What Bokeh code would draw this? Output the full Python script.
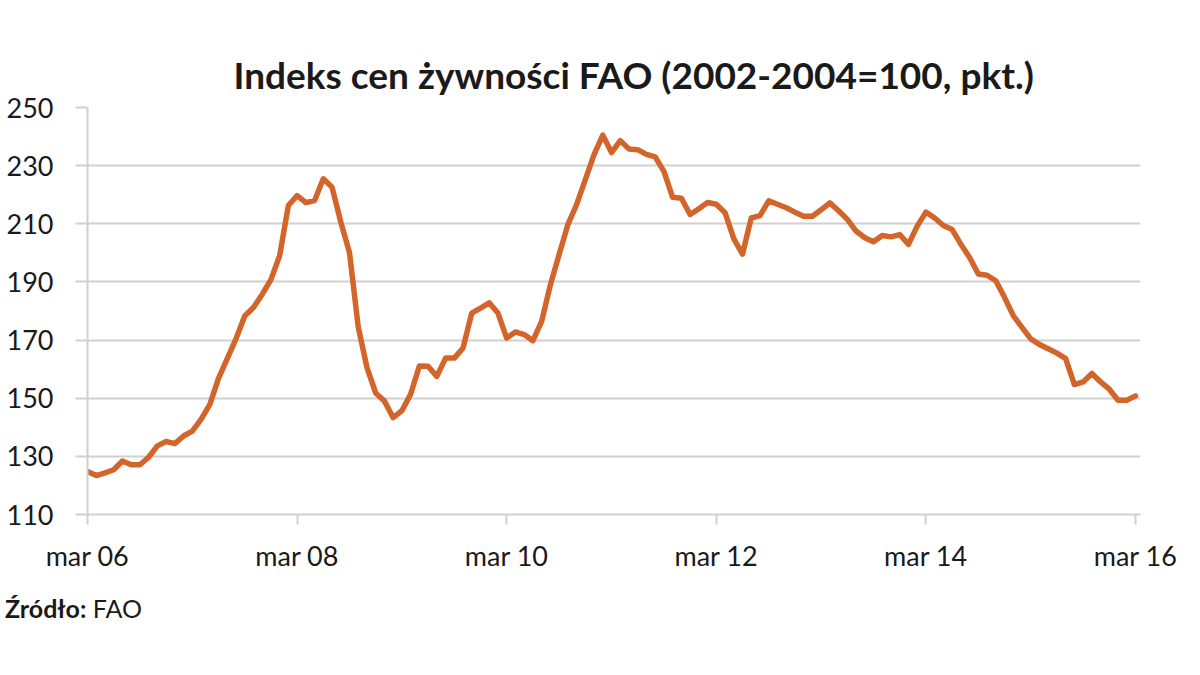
from bokeh.plotting import figure
from bokeh.models import Range1d, FixedTicker, Title, Div
from bokeh.layouts import column
from bokeh.embed import file_html
from bokeh.resources import INLINE

# Monthly FAO Food Price Index, Mar 2006 .. Mar 2016
fao_index = [
    124.8, 123.4, 124.3, 125.4, 128.4, 127.1, 127.1, 129.7, 133.6, 135.1,
    134.4, 137.0, 138.7, 142.7, 147.8, 156.8, 163.6, 170.4, 178.3, 181.2,
    185.7, 190.8, 199.0, 216.3, 219.7, 217.3, 218.0, 225.5, 222.6, 210.6,
    200.0, 174.5, 160.5, 151.8, 149.0, 143.3, 145.7, 151.4, 161.1, 161.0,
    157.5, 163.8, 163.8, 167.3, 179.3, 181.0, 182.8, 179.3, 170.7, 172.8,
    171.9, 169.8, 176.4, 189.0, 199.4, 209.7, 216.6, 225.2, 233.8, 240.5,
    234.5, 238.6, 235.7, 235.5, 233.9, 233.0, 228.0, 219.1, 218.8, 213.2,
    215.2, 217.3, 216.7, 213.8, 204.9, 199.6, 212.0, 212.8, 217.9, 216.7,
    215.5, 214.0, 212.6, 212.6, 214.8, 217.2, 214.5, 211.5, 207.5, 205.2,
    203.8, 206.0, 205.5, 206.3, 202.9, 209.2, 214.0, 212.0, 209.4, 208.0,
    203.0, 198.4, 192.7, 192.3, 190.4, 184.7, 178.4, 174.4, 170.4, 168.5,
    167.0, 165.5, 163.6, 154.7, 155.6, 158.5, 155.6, 153.1, 149.3, 149.3,
    150.8,
]
month_pos = list(range(len(fao_index)))

tick_positions = [0, 24, 48, 72, 96, 120]
tick_labels = ["mar 06", "mar 08", "mar 10", "mar 12", "mar 14", "mar 16"]
y_ticks = [110, 130, 150, 170, 190, 210, 230, 250]

title_text = "Indeks cen żywności FAO (2002-2004=100, pkt.)"
source_bold = "Źródło:"
source_text = "FAO"

FONT = "Lato"
LINE_COLOR = "#D4652A"
GRID = "#D0D0D0"
TEXT = "#1a1a1a"

p = figure(width=1184, height=585, output_backend="svg", toolbar_location=None,
           x_range=Range1d(0, 120.57), y_range=Range1d(110, 250),
           min_border_left=87, min_border_right=44, min_border_top=107,
           min_border_bottom=71)
p.outline_line_color = None
p.background_fill_color = "white"
p.border_fill_color = "white"

p.line(month_pos, fao_index, line_color=LINE_COLOR, line_width=5.5,
       line_join="round", line_cap="round")

# grid
p.xgrid.grid_line_color = None
p.ygrid.grid_line_color = GRID
p.ygrid.grid_line_width = 2
p.ygrid.ticker = FixedTicker(ticks=y_ticks)

# y axis
ya = p.yaxis[0]
ya.ticker = FixedTicker(ticks=y_ticks)
ya.axis_line_color = GRID
ya.axis_line_width = 2
ya.major_tick_line_color = GRID
ya.major_tick_line_width = 2
ya.major_tick_out = 12
ya.major_tick_in = 0
ya.minor_tick_line_color = None
ya.major_label_text_font = FONT
ya.major_label_text_font_size = "27px"
ya.major_label_text_color = TEXT
ya.major_label_standoff = 22

# x axis
xa = p.xaxis[0]
xa.ticker = FixedTicker(ticks=tick_positions)
xa.major_label_overrides = {t: l for t, l in zip(tick_positions, tick_labels)}
xa.axis_line_color = GRID
xa.axis_line_width = 2
xa.major_tick_line_color = GRID
xa.major_tick_line_width = 2
xa.major_tick_out = 10
xa.major_tick_in = 0
xa.minor_tick_line_color = None
xa.major_label_text_font = FONT
xa.major_label_text_font_size = "27px"
xa.major_label_text_color = TEXT
xa.major_label_standoff = 14

# title (above the frame)
p.add_layout(Title(text=title_text, align="left", offset=146, standoff=22,
                   text_font=FONT, text_font_style="bold",
                   text_font_size="37px", text_color=TEXT), "above")

# source line below the chart: bold "Źródło:" + regular "FAO"
source = Div(text=f"<b>{source_bold}</b> {source_text}",
             width=400, height=36, margin=(8, 0, 0, 5),
             styles={"font-family": FONT, "font-size": "25px",
                     "color": TEXT, "line-height": "30px"})

layout = column(p, source, spacing=0)
open("out.html", "w").write(file_html(layout, INLINE))
